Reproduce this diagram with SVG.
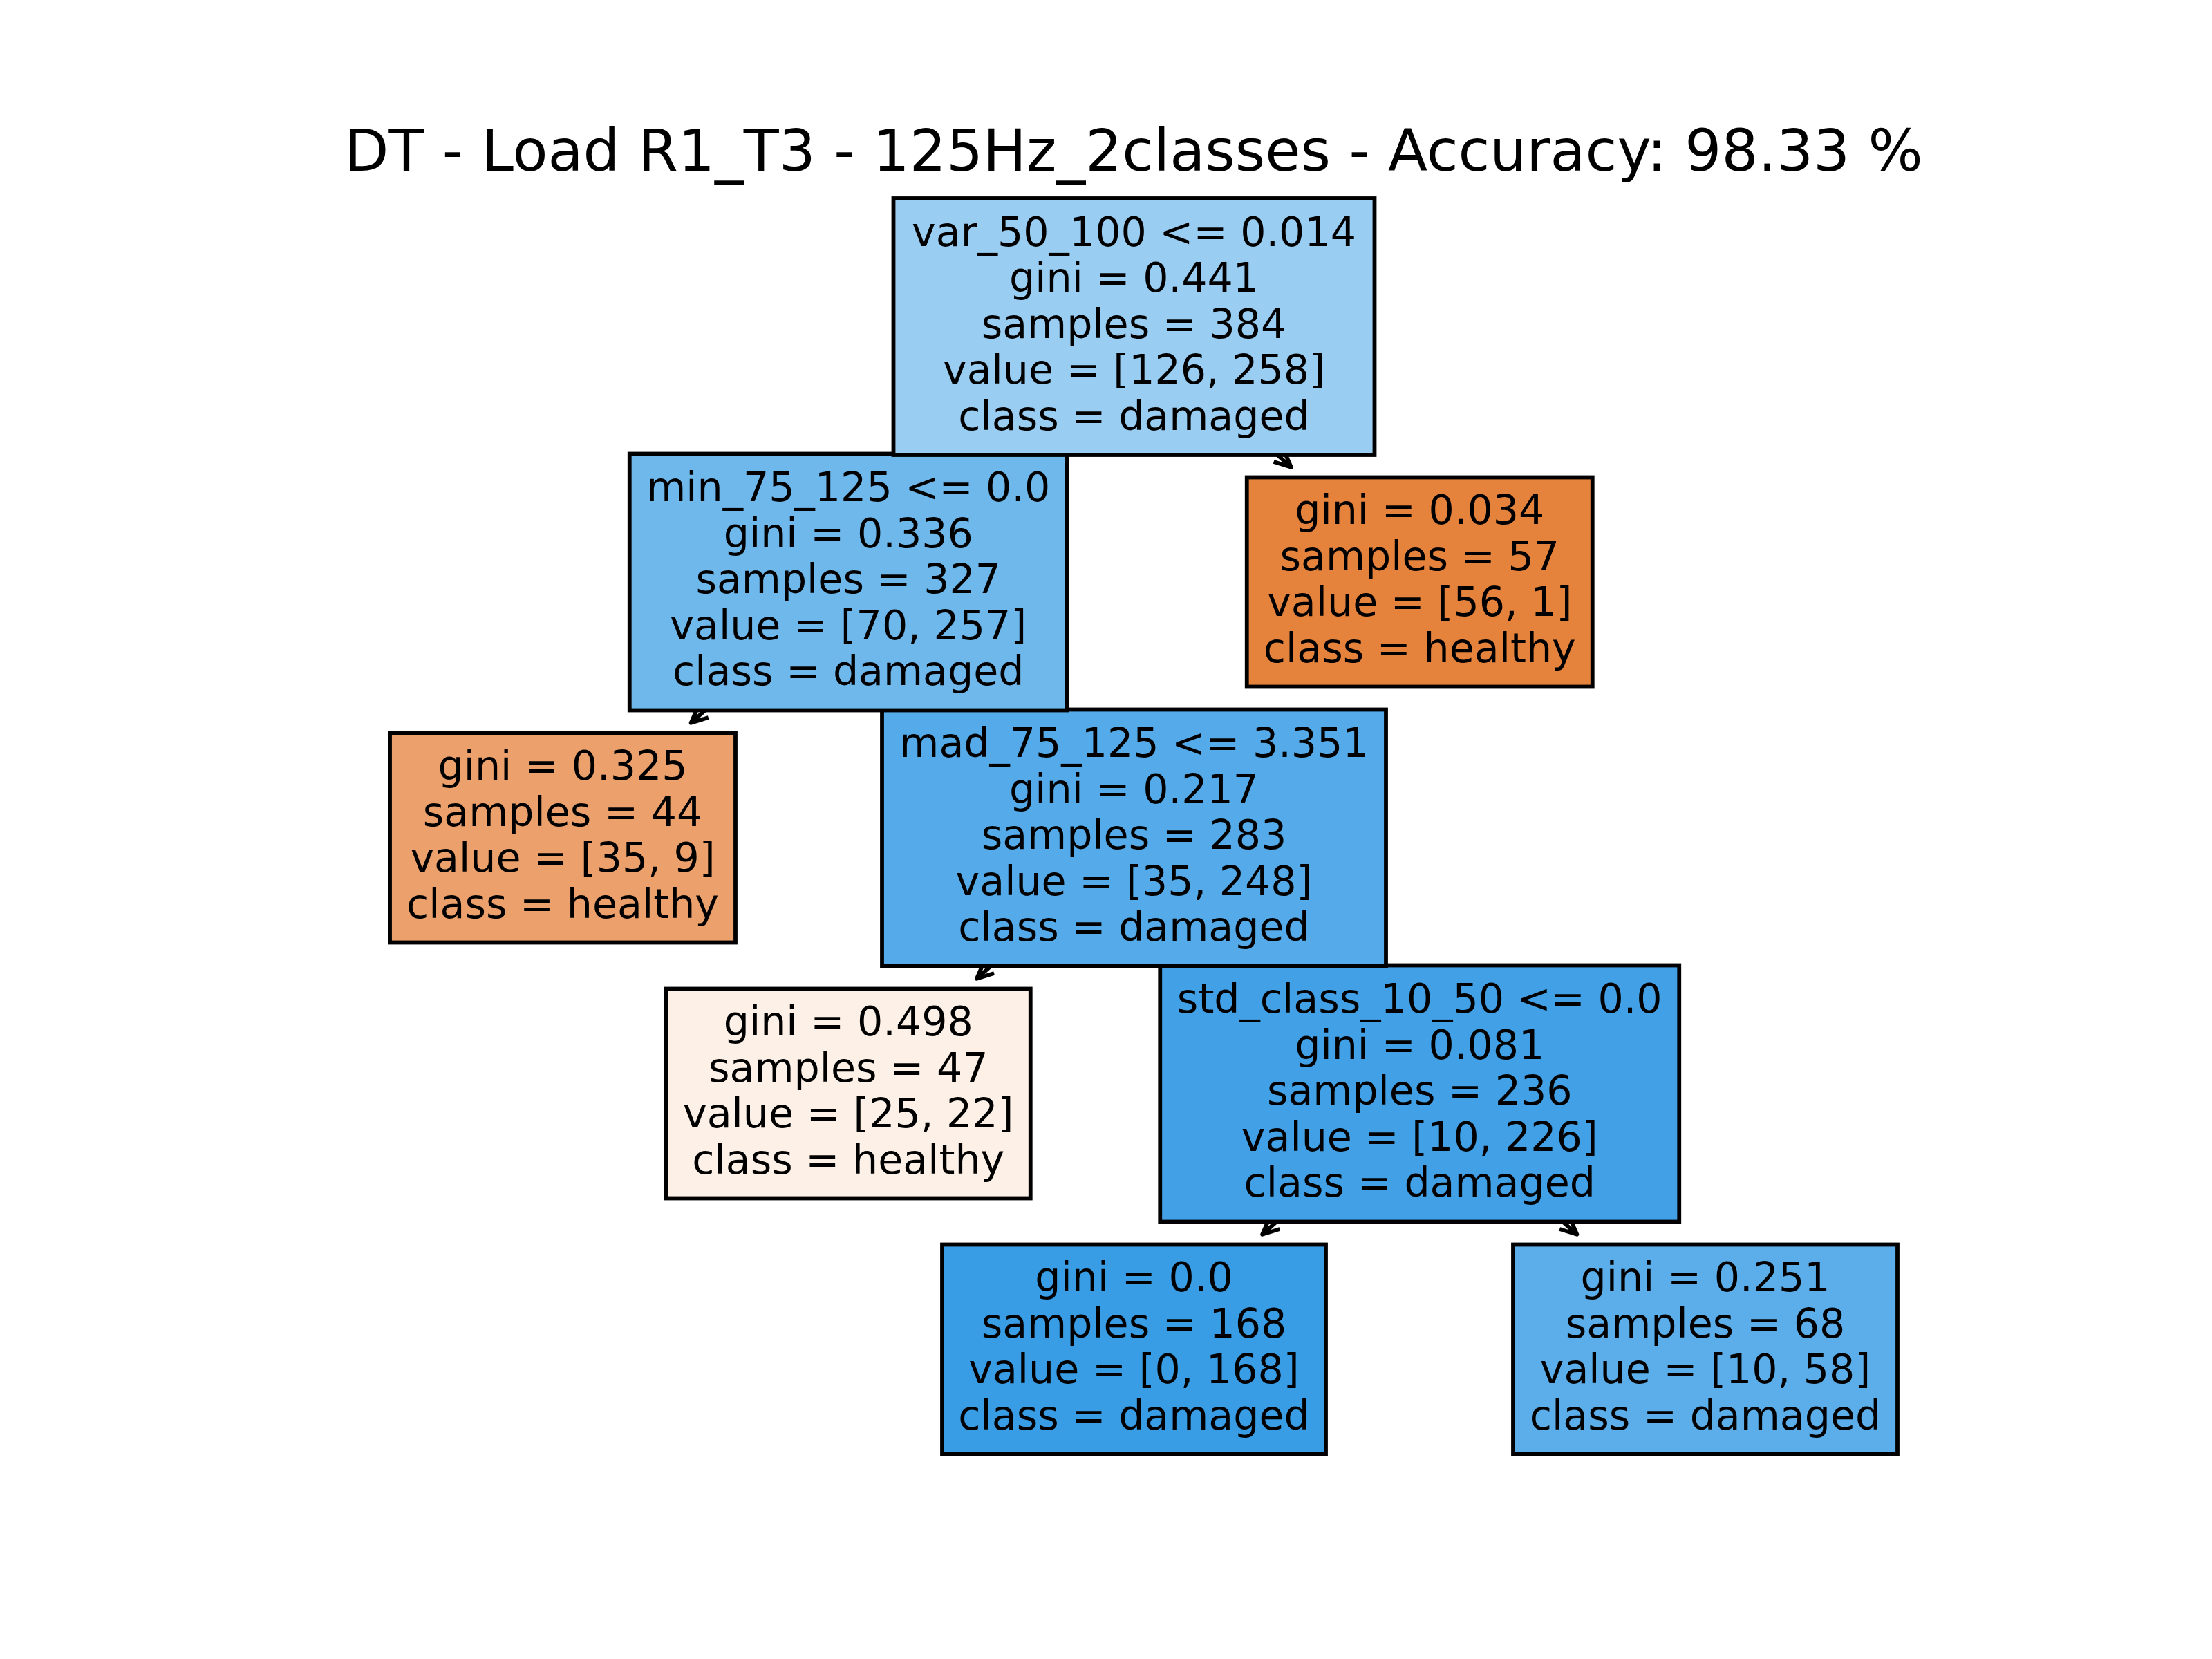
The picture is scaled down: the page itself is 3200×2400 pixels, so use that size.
<svg xmlns="http://www.w3.org/2000/svg" width="3200" height="2400" viewBox="0 0 3200 2400">
<style>
  .box { stroke: #000; stroke-width: 5.8; }
  .t { font-family: "DejaVu Sans", "Liberation Sans", sans-serif; font-size: 58.6px; fill: #000; text-anchor: middle; }
  .title { font-family: "DejaVu Sans", "Liberation Sans", sans-serif; font-size: 83.4px; fill: #000; text-anchor: middle; }
  .edge { stroke: #000; stroke-width: 5.8; fill: none; marker-end: url(#head); }
</style>
<defs>
  <marker id="head" markerUnits="userSpaceOnUse" orient="auto" markerWidth="60" markerHeight="60" refX="0" refY="0" viewBox="-40 -30 60 60" overflow="visible">
    <path d="M -24 -11 L 0 0 L -24 11" fill="none" stroke="#000" stroke-width="5.8" stroke-linejoin="round"/>
  </marker>
</defs>
<rect x="0" y="0" width="3200" height="2400" fill="#ffffff"/>
<text class="title" x="1640" y="247">DT - Load R1_T3 - 125Hz_2classes - Accuracy: 98.33 %</text>

<g id="connectors">
  <path class="edge" d="M 1640.5 472.5 L 1867.9 675.8"/>
  <path class="edge" d="M 1227.25 842 L 999.6 1045.8"/>
  <path class="edge" d="M 1640.5 1212 L 1412.9 1415.8"/>
  <path class="edge" d="M 2053.75 1582 L 1826.1 1785.8"/>
  <path class="edge" d="M 2053.75 1582 L 2281.4 1785.8"/>
</g>

<g id="node7">
  <rect class="box" x="1363" y="1800.5" width="555" height="303" fill="#399de5"/>
  <text class="t" x="1640.5" y="1868.25">gini = 0.0</text>
  <text class="t" x="1640.5" y="1934.75">samples = 168</text>
  <text class="t" x="1640.5" y="2001.25">value = [0, 168]</text>
  <text class="t" x="1640.5" y="2067.75">class = damaged</text>
</g>
<g id="node8">
  <rect class="box" x="2189" y="1800.5" width="556" height="303" fill="#5baee9"/>
  <text class="t" x="2467" y="1868.25">gini = 0.251</text>
  <text class="t" x="2467" y="1934.75">samples = 68</text>
  <text class="t" x="2467" y="2001.25">value = [10, 58]</text>
  <text class="t" x="2467" y="2067.75">class = damaged</text>
</g>
<g id="node6">
  <rect class="box" x="1678.25" y="1396.5" width="751" height="371" fill="#42a1e6"/>
  <text class="t" x="2053.75" y="1465">std_class_10_50 &lt;= 0.0</text>
  <text class="t" x="2053.75" y="1531.5">gini = 0.081</text>
  <text class="t" x="2053.75" y="1598">samples = 236</text>
  <text class="t" x="2053.75" y="1664.5">value = [10, 226]</text>
  <text class="t" x="2053.75" y="1731">class = damaged</text>
</g>
<g id="node5">
  <rect class="box" x="963.75" y="1430.5" width="527" height="303" fill="#fcf0e7"/>
  <text class="t" x="1227.25" y="1498.25">gini = 0.498</text>
  <text class="t" x="1227.25" y="1564.75">samples = 47</text>
  <text class="t" x="1227.25" y="1631.25">value = [25, 22]</text>
  <text class="t" x="1227.25" y="1697.75">class = healthy</text>
</g>
<g id="node4">
  <rect class="box" x="1276" y="1026.5" width="729" height="371" fill="#55abe9"/>
  <text class="t" x="1640.5" y="1095">mad_75_125 &lt;= 3.351</text>
  <text class="t" x="1640.5" y="1161.5">gini = 0.217</text>
  <text class="t" x="1640.5" y="1228">samples = 283</text>
  <text class="t" x="1640.5" y="1294.5">value = [35, 248]</text>
  <text class="t" x="1640.5" y="1361">class = damaged</text>
</g>
<g id="node3">
  <rect class="box" x="564" y="1060.5" width="500" height="303" fill="#eca16c"/>
  <text class="t" x="814" y="1128.25">gini = 0.325</text>
  <text class="t" x="814" y="1194.75">samples = 44</text>
  <text class="t" x="814" y="1261.25">value = [35, 9]</text>
  <text class="t" x="814" y="1327.75">class = healthy</text>
</g>
<g id="node2">
  <rect class="box" x="1803.75" y="690.5" width="500" height="303" fill="#e5833d"/>
  <text class="t" x="2053.75" y="758.25">gini = 0.034</text>
  <text class="t" x="2053.75" y="824.75">samples = 57</text>
  <text class="t" x="2053.75" y="891.25">value = [56, 1]</text>
  <text class="t" x="2053.75" y="957.75">class = healthy</text>
</g>
<g id="node1">
  <rect class="box" x="910.75" y="656.5" width="633" height="371" fill="#6fb8ec"/>
  <text class="t" x="1227.25" y="725">min_75_125 &lt;= 0.0</text>
  <text class="t" x="1227.25" y="791.5">gini = 0.336</text>
  <text class="t" x="1227.25" y="858">samples = 327</text>
  <text class="t" x="1227.25" y="924.5">value = [70, 257]</text>
  <text class="t" x="1227.25" y="991">class = damaged</text>
</g>
<g id="root">
  <rect class="box" x="1292.5" y="287" width="696" height="371" fill="#9acdf2"/>
  <text class="t" x="1640.5" y="355.5">var_50_100 &lt;= 0.014</text>
  <text class="t" x="1640.5" y="422">gini = 0.441</text>
  <text class="t" x="1640.5" y="488.5">samples = 384</text>
  <text class="t" x="1640.5" y="555">value = [126, 258]</text>
  <text class="t" x="1640.5" y="621.5">class = damaged</text>
</g>
</svg>
